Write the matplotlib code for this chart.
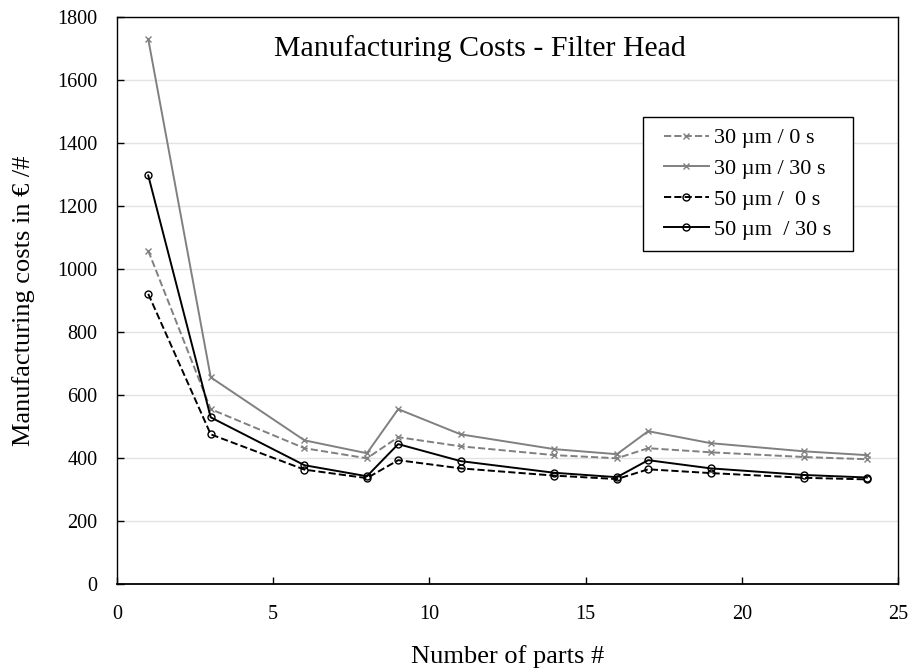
import matplotlib
matplotlib.use('Agg')
import matplotlib.pyplot as plt
from matplotlib.patches import Rectangle

parts = [1, 3, 6, 8, 9, 11, 14, 16, 17, 19, 22, 24]
cost_30um_0s = [1058, 555, 431, 399, 466, 437, 409, 399, 431, 418, 403, 396]
cost_30um_30s = [1730, 656, 456, 415, 555, 475, 428, 412, 485, 447, 421, 409]
cost_50um_0s = [921, 475, 363, 336, 393, 367, 344, 333, 364, 352, 337, 332]
cost_50um_30s = [1297, 529, 377, 342, 444, 390, 353, 339, 393, 367, 346, 338]

plt.rcParams['font.family'] = ['Liberation Serif', 'DejaVu Serif']

fig = plt.figure(figsize=(9.09, 6.71), dpi=100)
ax = fig.add_axes([0.1287, 0.1297, 0.8593, 0.845])

gray = '#808080'
ax.plot(parts, cost_30um_0s, color=gray, ls='--', lw=1.4, marker='x', ms=5, mew=1.0,
        label='30 µm / 0 s')
ax.plot(parts, cost_30um_30s, color=gray, ls='-', lw=1.4, marker='x', ms=5, mew=1.0,
        label='30 µm / 30 s')
ax.plot(parts, cost_50um_0s, color='black', ls='--', lw=1.4, marker='o', ms=5, mew=1.0,
        mfc='none', label='50 µm /  0 s')
ax.plot(parts, cost_50um_30s, color='black', ls='-', lw=1.4, marker='o', ms=5, mew=1.0,
        mfc='none', label='50 µm  / 30 s')

ax.set_xlim(0, 25)
ax.set_ylim(0, 1800)
ax.set_xticks(range(0, 26, 5))
ax.set_yticks(range(0, 1801, 200))
ax.yaxis.grid(True, color='#e3e3e3', lw=1)
ax.set_axisbelow(True)
ax.tick_params(direction='in', labelsize=14.5, length=5, width=1)
ax.tick_params(axis='x', pad=15)
ax.tick_params(axis='y', pad=14)
for s in ax.spines.values():
    s.set_linewidth(1.0)
ax.spines['bottom'].set_linewidth(1.3)

ax.set_xlabel('Number of parts #', fontsize=19, labelpad=15)
ax.set_ylabel('Manufacturing costs in € /#', fontsize=19, labelpad=16)
ax.text(0.465, 0.945, 'Manufacturing Costs - Filter Head', transform=ax.transAxes,
        ha='center', va='center', fontsize=21.5)

# legend without its own frame; a wider box is drawn behind it
leg = ax.legend(loc='upper right', bbox_to_anchor=(0.929, 0.824), borderaxespad=0,
                fontsize=16, frameon=False, handlelength=2.0, handletextpad=0.25,
                borderpad=0.5, labelspacing=0.45)
leg.set_zorder(6)
fig.canvas.draw()
bb = leg.get_window_extent().transformed(ax.transAxes.inverted())
dx = 10 / 781
ax.add_patch(Rectangle((bb.x0 - dx, bb.y0), bb.width + 2 * dx, bb.height,
                       transform=ax.transAxes, facecolor='white', edgecolor='black',
                       lw=1.0, zorder=5))

fig.savefig('out.png', dpi=100)
